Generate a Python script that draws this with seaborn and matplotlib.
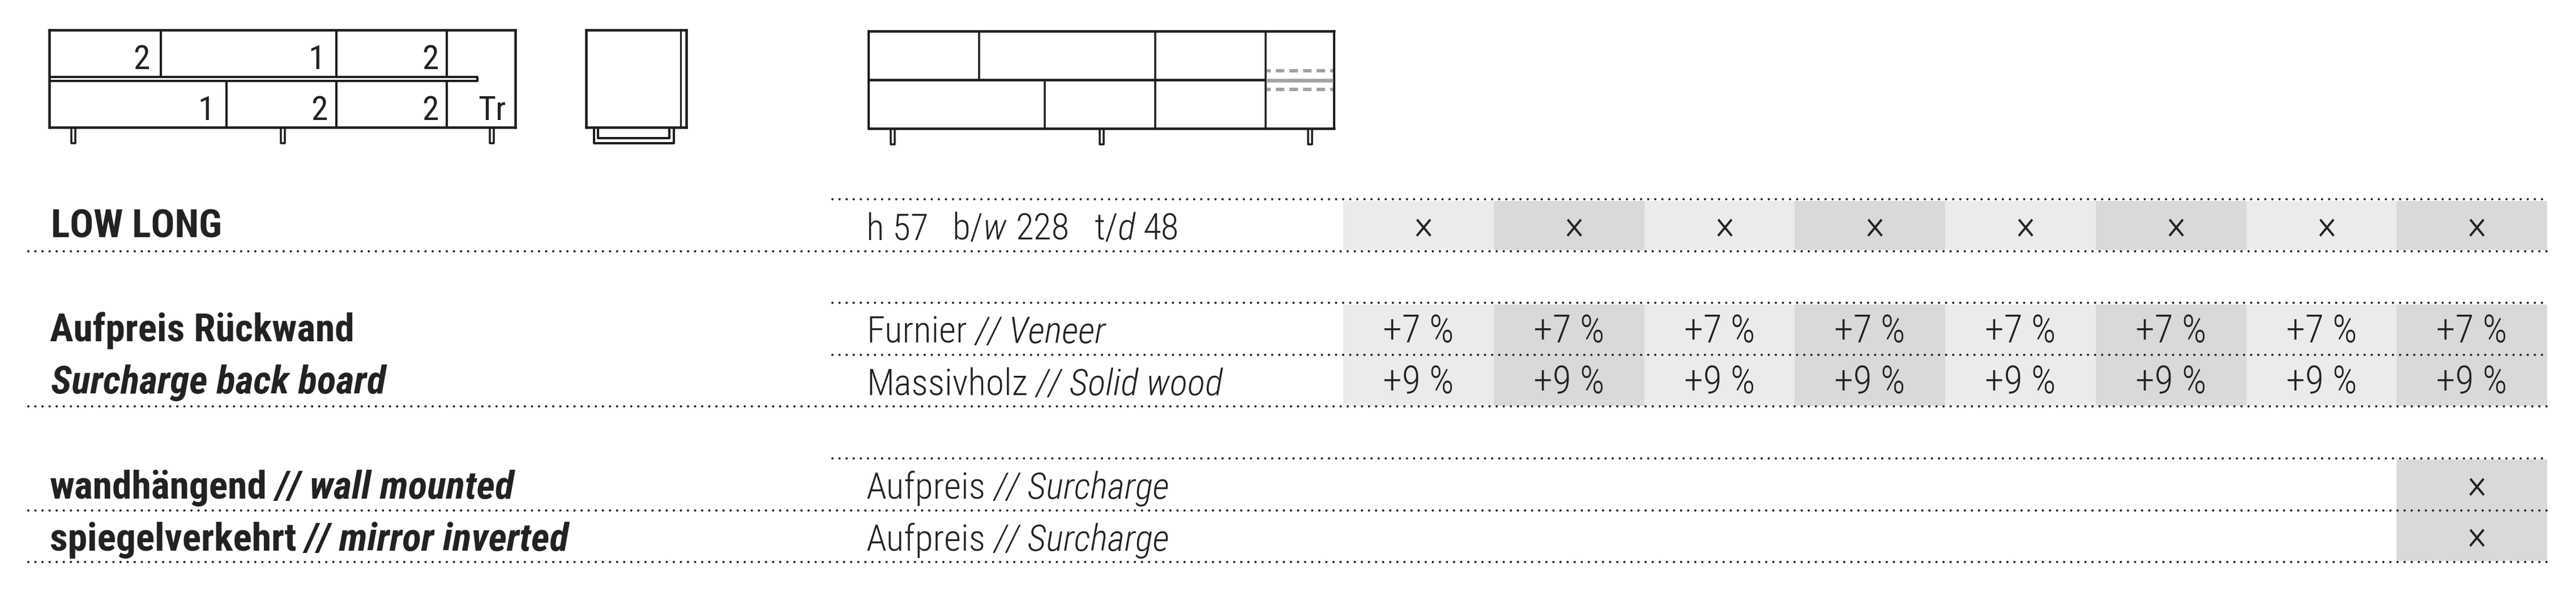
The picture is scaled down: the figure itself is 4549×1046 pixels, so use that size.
import numpy as np
import seaborn as sns
import matplotlib
matplotlib.use('Agg')
import matplotlib.pyplot as plt
from matplotlib.colors import ListedColormap

sns.set_theme(style='white')
plt.rcParams['font.family'] = ['Roboto Condensed', 'Liberation Sans', 'DejaVu Sans']

# Data
model_name = 'LOW LONG'
model_dims = ['h 57', 'b/', 'w', '228', 't/', 'd', '48']
surcharge_titles = ['Aufpreis Rückwand', 'Surcharge back board']
surcharge_rows = ['Furnier // Veneer', 'Massivholz // Solid wood']
option_titles = ['wandhängend // wall mounted', 'spiegelverkehrt // mirror inverted']
option_rows = ['Aufpreis // Surcharge', 'Aufpreis // Surcharge']
model_marks = [['×'] * 8]
surcharge_values = [['+7 %'] * 8, ['+9 %'] * 8]
option_marks = [[''] * 7 + ['×'], [''] * 7 + ['×']]
door_counts_top = ['2', '1', '2']
door_counts_bottom = ['1', '2', '2', 'Tr']

# Layout in pixels
W, H = 4549, 1046
DARK = '#222222'
INK = '#1d1d1b'
GREY = '#a3a3a3'
LIGHT_CELL, DARK_CELL = '#ebebeb', '#d8d9da'
X0, X1 = 2372, 4498
CELL_W = (X1 - X0) / 8

fig = plt.figure(figsize=(W / 100, H / 100), dpi=100, facecolor='white')
ax = fig.add_axes([0, 0, 1, 1])
ax.set_xlim(0, W)
ax.set_ylim(H, 0)
ax.axis('off')


def grid(marks, top, bottom, size, dx=0, dy=0):
    # one shaded block of the price table, columns alternate light / dark
    marks = np.array(marks)
    shade = np.tile(np.arange(8) % 2, (marks.shape[0], 1))
    sub = fig.add_axes([X0 / W, 1 - bottom / H, (X1 - X0) / W, (bottom - top) / H])
    sns.heatmap(shade, mask=marks == '', annot=marks, fmt='', ax=sub, cbar=False,
                cmap=ListedColormap([LIGHT_CELL, DARK_CELL]), vmin=0, vmax=1,
                xticklabels=False, yticklabels=False,
                annot_kws={'fontsize': size, 'color': DARK, 'fontweight': 'light'})
    row_h = (bottom - top) / marks.shape[0]
    for t in sub.texts:
        px, py = t.get_position()
        t.set_position((px + dx / CELL_W, py + dy / row_h))


grid(model_marks, 355, 442, 54, dx=9, dy=3)
grid(surcharge_values, 538, 717, 49, dy=4)
grid(option_marks, 812, 991, 54, dx=9, dy=3)
ax.set_zorder(2)
ax.patch.set_alpha(0)


def dots(y, x0):
    ax.plot([x0, X1], [y, y], color=DARK, lw=2.9, dash_capstyle='round',
            linestyle=(0, (0.01, 3.1)))


for y in [444, 718, 902, 993]:
    dots(y, 50)
for y in [352, 535, 627, 810]:
    dots(y, 1470)

# Left hand titles
BOLD = dict(fontsize=50, fontweight='bold', color=DARK, va='baseline')
ax.text(90, 420, model_name, **BOLD)
ax.text(88, 603, surcharge_titles[0], **BOLD)
ax.text(90, 695, surcharge_titles[1], style='italic', **BOLD)


def two_part(x, y, text, **kw):
    # upright German part, italic English part after the //
    de, en = text.split(' // ')
    t = ax.text(x, y, de, **kw)
    fig.canvas.draw()
    x1 = ax.transData.inverted().transform(t.get_window_extent().get_points())[1, 0]
    ax.text(x1 + 15, y, '// ' + en, style='italic', **kw)


two_part(88, 881, option_titles[0], **BOLD)
two_part(88, 973, option_titles[1], **BOLD)

REG = dict(fontsize=47, fontweight='light', color=DARK, va='baseline')
dims_x = [1530, 1681, 1735, 1794, 1933, 1974, 2019]
for x, s in zip(dims_x, model_dims):
    ax.text(x, 423, s, style='italic' if s in ('w', 'd') else 'normal', **REG)
two_part(1530, 606, surcharge_rows[0], **REG)
two_part(1530, 698, surcharge_rows[1], **REG)
two_part(1530, 881, option_rows[0], **REG)
two_part(1530, 973, option_rows[1], **REG)


# Cabinet drawings
def line(xs, ys, lw=4, color=INK, **kw):
    ax.plot(xs, ys, color=color, lw=lw * 0.72, solid_capstyle='butt', **kw)


def leg(x, y0, y1):
    line([x - 3.5, x - 3.5, x + 3.5, x + 3.5], [y0, y1, y1, y0], lw=3.5)


# front view with shelf
line([87, 87], [51, 227], lw=4.5)
line([910, 910], [51, 227], lw=4.5)
line([85, 912], [52.5, 52.5], lw=4.5)
line([85, 912], [225, 225], lw=4.5)
for x in [284, 594, 789]:
    line([x, x], [52, 134])
for x in [400, 594, 789]:
    line([x, x], [144, 225])
line([87, 843, 843, 87], [136, 136, 142.5, 142.5])
for x in [129, 499, 868]:
    leg(x, 227, 253)
for x, s in zip([265, 574, 775], door_counts_top):
    ax.text(x, 122, s, ha='right', va='baseline', fontsize=43, color=DARK)
for x, s in zip([379, 579, 775, 894], door_counts_bottom):
    ax.text(x, 212, s, ha='right', va='baseline', fontsize=43, color=DARK)

# side view
line([1035, 1035], [51, 227], lw=4.5)
line([1212, 1212], [51, 227], lw=4.5)
line([1202, 1202], [51, 227], lw=3)
line([1033, 1214], [52.5, 52.5], lw=4.5)
line([1033, 1214], [225, 225], lw=4.5)
line([1049, 1049, 1190, 1190], [227, 252.5, 252.5, 227])
line([1056, 1056, 1182, 1182], [227, 244, 244, 227])

# front view, back board
line([1534, 1534], [53, 229])
line([2356, 2356], [53, 229])
line([1532, 2358], [55, 55], lw=4.5)
line([1532, 2358], [227, 227], lw=4.5)
line([1532, 2235], [141, 141], lw=4.5)
for x in [1729, 2040, 2235]:
    line([x, x], [55, 141], lw=3.5)
for x in [1845, 2040, 2235]:
    line([x, x], [141, 227], lw=3.5)
for x in [1576, 1945, 2313]:
    leg(x, 229, 255)
line([2237, 2354], [141.5, 141.5], lw=6.5, color=GREY)
for y in [124.7, 158]:
    ax.plot([2237, 2354], [y, y], color=GREY, lw=6 * 0.72, dash_capstyle='butt',
            linestyle=(1.33, (2.5, 1.5)))

fig.savefig('out.png', dpi=100, facecolor='white')
